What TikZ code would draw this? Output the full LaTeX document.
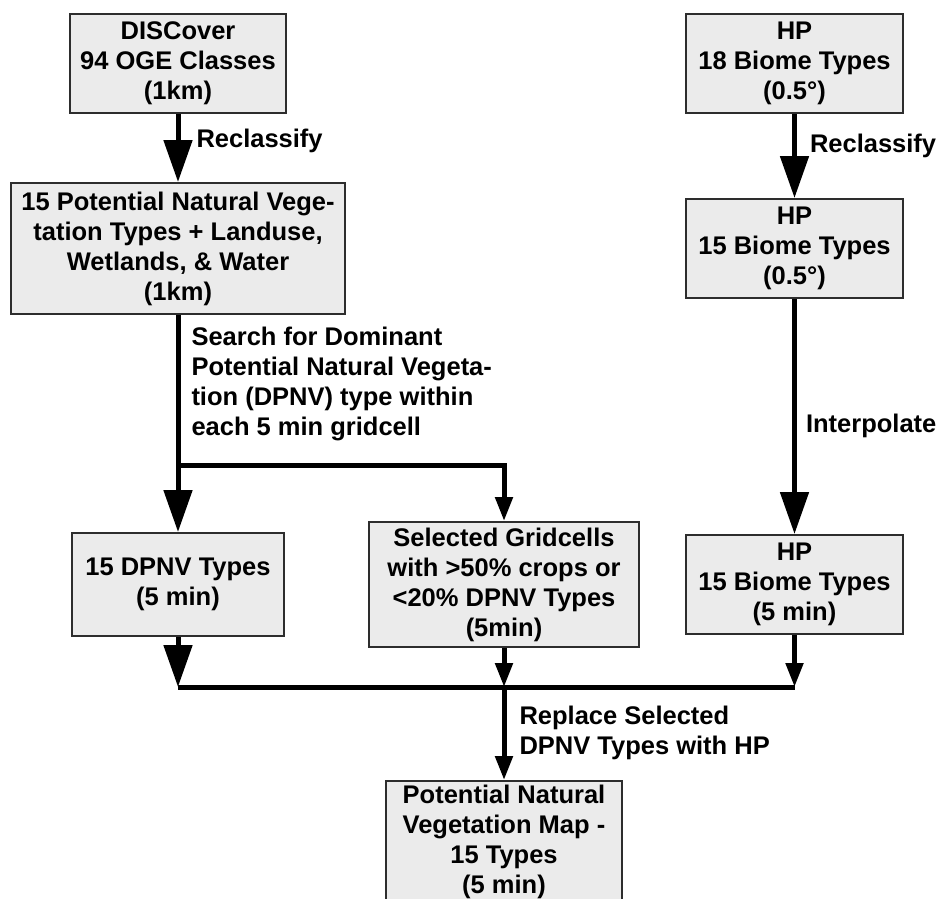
\documentclass[tikz,border=0pt]{standalone}
\usepackage{fontspec}
\setmainfont{Liberation Sans}
\usetikzlibrary{positioning,arrows.meta}
\definecolor{boxgray}{RGB}{235,235,235}
\definecolor{edgegray}{RGB}{45,45,45}

\begin{document}
\begin{tikzpicture}[x=1pt,y=-1pt,font=\fontsize{25.5}{30}\selectfont\bfseries,
  procbox/.style={rectangle, draw=edgegray, fill=boxgray, line width=2pt, align=center, inner sep=2pt, minimum height=99pt},
  tag/.style={align=left, inner sep=0pt},
  flow/.style={line width=5pt},
  bigtip/.style={-{Triangle[width=28pt,length=42pt]}},
  smalltip/.style={-{Triangle[width=17pt,length=24pt]}}]
		\useasboundingbox (0,0) rectangle (943,899);
		\node[procbox, minimum width=216pt] (discover) at (178,63.5) {DISCover\\94 OGE Classes\\(1km)};
		\node[procbox, minimum width=334pt, minimum height=131pt] (pnv) [below=68pt of discover] {15 Potential Natural Vege-\\tation Types + Landuse,\\Wetlands, \& Water\\(1km)};
		\node[procbox, minimum width=217pt] (hpbiome18) at (794.5,63.5) {HP\\18 Biome Types\\(0.5°)};
		\node[procbox, minimum width=217pt] (hpbiome15) [below=84pt of hpbiome18] {HP\\15 Biome Types\\(0.5°)};
		\node[procbox, minimum width=212pt, minimum height=103pt] (dpnv) [below=217pt of pnv] {15 DPNV Types\\(5 min)};
		\node[procbox, minimum width=270pt, minimum height=125pt] (selected) [right=83pt of dpnv] {Selected Gridcells\\with >50\% crops or\\<20\% DPNV Types\\(5min)};
		\node[procbox, minimum width=217pt] (hpfivemin) [below=235pt of hpbiome15] {HP\\15 Biome Types\\(5 min)};
		\node[procbox, minimum width=236pt, minimum height=135pt, text depth=19pt] (pnvmap) [below=132pt of selected] {Potential Natural\\Vegetation Map -\\15 Types\\(5 min)};
		\coordinate (split) at (pnv.south |- 0,465);
		\coordinate (joinL) at (dpnv.south |- 0,687);
		\coordinate (joinM) at (selected.south |- 0,687);
		\coordinate (joinR) at (hpfivemin.south |- 0,687);
		\draw[flow,bigtip] (discover) -- node[tag, right=16pt, pos=0.4] {Reclassify} (pnv);
		\draw[flow,bigtip] (hpbiome18) -- node[tag, right=13pt, pos=0.38] {Reclassify} (hpbiome15);
		\draw[flow,bigtip] (pnv) -- node[tag, right=11pt, pos=0.318] {Search for Dominant\\Potential Natural Vegeta-\\tion (DPNV) type within\\each 5 min gridcell} (dpnv);
		\draw[flow,smalltip] (split) -| (selected.north);
		\draw[flow,bigtip] (hpbiome15) -- node[tag, right=9pt, pos=0.54] {Interpolate} (hpfivemin);
		\draw[flow,bigtip] (dpnv) -- (joinL);
		\draw[flow,smalltip] (selected) -- (joinM);
		\draw[flow,smalltip] (hpfivemin) -- (joinR);
		\draw[flow] (joinL) -- (joinR);
		\draw[flow,smalltip] (joinM) -- node[tag, right=13pt, pos=0.49] {Replace Selected\\DPNV Types with HP} (pnvmap);
	\end{tikzpicture}
\end{document}
